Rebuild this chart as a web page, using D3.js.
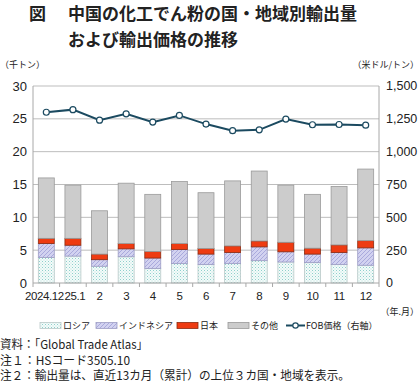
<!DOCTYPE html>
<html>
<head>
<meta charset="utf-8">
<script src="https://cdn.jsdelivr.net/npm/d3@7"></script>
<style>
  body { margin: 0; background: #fff; }
  svg { font-family: "Noto Sans CJK JP", "Noto Sans", sans-serif; }
</style>
</head>
<body>
<svg id="chart" width="420" height="384"></svg>
<script>
var months = ["2024.12", "25.1", "2", "3", "4", "5", "6", "7", "8", "9", "10", "11", "12"];
var russia    = [3.9, 4.1, 2.55, 4.0, 2.2, 2.95, 2.8, 2.95, 3.4, 3.2, 3.1, 2.8, 2.7];
var indonesia = [2.1, 1.65, 1.0, 1.2, 1.6, 2.15, 1.6, 1.7, 2.1, 1.55, 1.3, 1.85, 2.65];
var japan     = [0.8, 1.05, 0.85, 0.8, 1.0, 0.9, 0.85, 1.0, 0.9, 1.45, 0.9, 1.15, 1.1];
var others    = [9.2, 8.1, 6.6, 9.2, 8.7, 9.45, 8.5, 9.9, 10.65, 8.7, 8.2, 8.9, 10.9];
var fobPrice  = [1300, 1320, 1240, 1288, 1225, 1276, 1210, 1160, 1166, 1248, 1205, 1207, 1202];
var leftTicks  = [0, 5, 10, 15, 20, 25, 30];
var rightTicks = [0, 250, 500, 750, 1000, 1250, 1500];

var keys = ["russia", "indonesia", "japan", "others"];
var labels = {russia: "ロシア", indonesia: "インドネシア", japan: "日本", others: "その他"};

var table = months.map((m, i) => ({month: m, russia: russia[i], indonesia: indonesia[i], japan: japan[i], others: others[i]}));

var margin = {top: 86, right: 41, bottom: 101, left: 33};
var width = 420, height = 384;
var svg = d3.select("#chart");
var numFont = "Arial, 'Liberation Sans', sans-serif";

// patterns
var defs = svg.append("defs");
var pr = defs.append("pattern").attr("id", "pRussia").attr("width", 3).attr("height", 3)
  .attr("patternUnits", "userSpaceOnUse");
pr.append("rect").attr("width", 3).attr("height", 3).attr("fill", "#f4fbfa");
pr.append("rect").attr("width", 1).attr("height", 1).attr("fill", "#8fd0cc");
pr.append("rect").attr("x", 1.5).attr("y", 1.5).attr("width", 1).attr("height", 1).attr("fill", "#b5e0dd");
var pi = defs.append("pattern").attr("id", "pIndo").attr("width", 4).attr("height", 4)
  .attr("patternUnits", "userSpaceOnUse");
pi.append("rect").attr("width", 4).attr("height", 4).attr("fill", "#d2d2f0");
pi.append("path").attr("d", "M0,4 L4,0 M-1,1 L1,-1 M3,5 L5,3").attr("stroke", "#a9a9dc").attr("stroke-width", 1);

var fills = {russia: "url(#pRussia)", indonesia: "url(#pIndo)", japan: "#ee3b12", others: "#cccccc"};
var strokes = {russia: "#b9c9c8", indonesia: "#9d9dc4", japan: "#8a2a10", others: "#9a9a9a"};

var x = d3.scaleBand().domain(months).range([margin.left, width - margin.right]).paddingInner(0.4).paddingOuter(0.2);
var xb = d3.scaleBand().domain(months).range([margin.left, width - margin.right]);
var y = d3.scaleLinear().domain([0, 30]).range([height - margin.bottom, margin.top]);
var y2 = d3.scaleLinear().domain([0, 1500]).range([height - margin.bottom, margin.top]);

// grid
svg.append("g").selectAll("line").data(leftTicks.slice(1)).join("line")
  .attr("x1", margin.left).attr("x2", width - margin.right)
  .attr("y1", d => y(d)).attr("y2", d => y(d))
  .attr("stroke", "#bdbdbd").attr("stroke-width", 1);

// axes lines
svg.append("line").attr("x1", margin.left).attr("x2", margin.left)
  .attr("y1", y(0)).attr("y2", y(30)).attr("stroke", "#a8a8a8");
svg.append("line").attr("x1", width - margin.right).attr("x2", width - margin.right)
  .attr("y1", y(0)).attr("y2", y(30)).attr("stroke", "#a8a8a8");

// bars
var stack = d3.stack().keys(keys)(table);
svg.append("g").selectAll("g").data(stack).join("g")
  .attr("fill", d => fills[d.key]).attr("stroke", d => strokes[d.key])
  .selectAll("rect").data(d => d).join("rect")
  .attr("x", d => x(d.data.month))
  .attr("y", d => y(d[1]))
  .attr("width", x.bandwidth())
  .attr("height", d => y(d[0]) - y(d[1]))
  .attr("stroke-width", 0.8);

// x axis
svg.append("line").attr("x1", margin.left).attr("x2", width - margin.right)
  .attr("y1", y(0)).attr("y2", y(0)).attr("stroke", "#a8a8a8");
svg.append("g").selectAll("line").data(months.concat(["end"])).join("line")
  .attr("x1", (d, i) => margin.left + i * xb.bandwidth())
  .attr("x2", (d, i) => margin.left + i * xb.bandwidth())
  .attr("y1", y(0)).attr("y2", y(0) + 4).attr("stroke", "#a8a8a8");
svg.append("g").selectAll("text").data(months).join("text")
  .attr("x", (d, i) => xb(d) + xb.bandwidth() / 2 + (i == 0 ? -2 : i == 1 ? 2 : 0))
  .attr("y", y(0) + 17)
  .attr("text-anchor", "middle").attr("font-size", 11.5).attr("fill", "#222")
  .attr("font-family", numFont).attr("letter-spacing", -0.4)
  .text(d => d);

// left ticks
svg.append("g").selectAll("text").data(leftTicks).join("text")
  .attr("x", margin.left - 6).attr("y", d => y(d)).attr("dy", "0.35em")
  .attr("text-anchor", "end").attr("font-size", 13).attr("fill", "#222")
  .attr("font-family", numFont)
  .text(d => d);
svg.append("g").selectAll("text").data(rightTicks).join("text")
  .attr("x", width - margin.right + 7).attr("y", d => y2(d)).attr("dy", "0.35em")
  .attr("text-anchor", "start").attr("font-size", 12.5).attr("fill", "#222")
  .attr("font-family", numFont)
  .text(d => d3.format(",")(d));

// line
var line = d3.line().x((d, i) => xb(months[i]) + xb.bandwidth() / 2).y(d => y2(d));
svg.append("path").datum(fobPrice).attr("d", line)
  .attr("fill", "none").attr("stroke", "#1b4a60").attr("stroke-width", 2);
svg.append("g").selectAll("circle").data(fobPrice).join("circle")
  .attr("cx", (d, i) => xb(months[i]) + xb.bandwidth() / 2).attr("cy", d => y2(d))
  .attr("r", 3).attr("fill", "#fff").attr("stroke", "#1b4a60").attr("stroke-width", 1.2);

// title
svg.append("text").attr("x", 29).attr("y", 20).attr("font-size", 17).attr("font-weight", "bold")
  .attr("fill", "#222").text("図");
svg.append("text").attr("x", 68).attr("y", 20).attr("font-size", 17).attr("font-weight", "bold")
  .attr("fill", "#222").text("中国の化工でん粉の国・地域別輸出量");
svg.append("text").attr("x", 68).attr("y", 46).attr("font-size", 17).attr("font-weight", "bold")
  .attr("fill", "#222").text("および輸出価格の推移");

// unit labels
svg.append("text").attr("x", 0).attr("y", 68).attr("font-size", 9).attr("fill", "#222").text("（千トン）");
svg.append("text").attr("x", 419).attr("y", 68).attr("font-size", 9).attr("text-anchor", "end")
  .attr("fill", "#222").text("（米ドル/トン）");
svg.append("text").attr("x", 419).attr("y", 315).attr("font-size", 9).attr("text-anchor", "end")
  .attr("fill", "#222").text("（年.月）");

// legend
var legendX = {russia: 40, indonesia: 96, japan: 177, others: 228};
var lg = svg.append("g");
keys.forEach(k => {
  lg.append("rect").attr("x", legendX[k]).attr("y", 322.5).attr("width", 21).attr("height", 6)
    .attr("fill", fills[k]).attr("stroke", strokes[k]).attr("stroke-width", 0.8);
  lg.append("text").attr("x", legendX[k] + 23).attr("y", 329).attr("font-size", 9)
    .attr("fill", "#222").text(labels[k]);
});
lg.append("line").attr("x1", 286).attr("x2", 305).attr("y1", 325.5).attr("y2", 325.5)
  .attr("stroke", "#1b4a60").attr("stroke-width", 2);
lg.append("circle").attr("cx", 295.5).attr("cy", 325.5).attr("r", 2.7).attr("fill", "#fff")
  .attr("stroke", "#1b4a60").attr("stroke-width", 1.2);
lg.append("text").attr("x", 306).attr("y", 329).attr("font-size", 9).attr("fill", "#222")
  .text("FOB価格（右軸）");

// notes
var notes = ["資料：「Global Trade Atlas」", "注１：HSコード3505.10", "注２：輸出量は、直近13カ月（累計）の上位３カ国・地域を表示。"];
var noteW = [148, 130, 350];
svg.append("g").selectAll("text").data(notes).join("text")
  .attr("x", 0).attr("y", (d, i) => 349 + i * 15.5).attr("font-size", 12).attr("fill", "#222")
  .attr("textLength", (d, i) => noteW[i]).attr("lengthAdjust", "spacingAndGlyphs")
  .text(d => d);
</script>
</body>
</html>
